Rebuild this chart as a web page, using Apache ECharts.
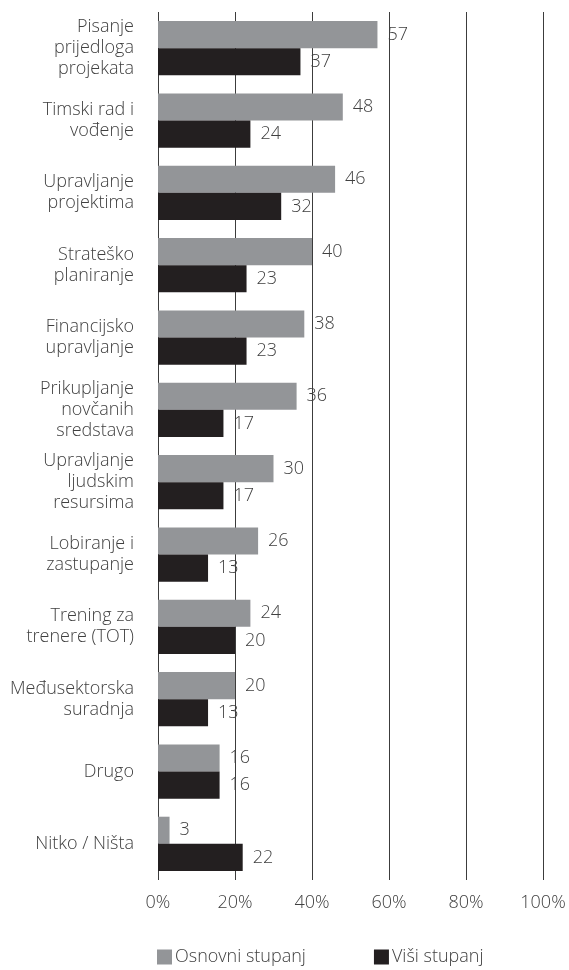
<!DOCTYPE html>
<html lang="hr">
<head>
    <meta charset="UTF-8">
    <title>Potrebe za edukacijom</title>
    <script src="https://cdn.jsdelivr.net/npm/echarts@6/dist/echarts.min.js"></script>
    <style>
        html, body { margin: 0; padding: 0; background: #fff; }
        #main { width: 569px; height: 970px; }
    </style>
</head>
<body>
<div id="main"></div>
<script>
    // kategorije od vrha prema dnu
    var kategorije = [
        'Pisanje\nprijedloga\nprojekata',
        'Timski rad i\nvođenje',
        'Upravljanje\nprojektima',
        'Strateško\nplaniranje',
        'Financijsko\nupravljanje',
        'Prikupljanje\nnovčanih\nsredstava',
        'Upravljanje\nljudskim\nresursima',
        'Lobiranje i\nzastupanje',
        'Trening za\ntrenere (TOT)',
        'Međusektorska\nsuradnja',
        'Drugo',
        'Nitko / Ništa'
    ];
    var osnovni = [57, 48, 46, 40, 38, 36, 30, 26, 24, 20, 16, 3];
    var visi = [37, 24, 32, 23, 23, 17, 17, 13, 20, 13, 16, 22];
    var xTicks = [0, 20, 40, 60, 80, 100];

    var font = '"Open Sans", "Noto Sans", sans-serif';
    var txt = '#404040';

    var myChart = echarts.init(document.getElementById('main'));
    var option = {
        animation: false,
        textStyle: { fontFamily: font },
        grid: { left: 158, right: 26, top: 12, bottom: 90 },
        legend: {
            left: 157,
            top: 948,
            padding: 0,
            itemWidth: 15,
            itemHeight: 15,
            itemGap: 68,
            icon: 'rect',
            textStyle: { fontSize: 18, color: txt, fontWeight: 300, padding: [0, 0, 0, -2] },
            data: ['Osnovni stupanj', 'Viši stupanj']
        },
        xAxis: {
            type: 'value',
            min: xTicks[0],
            max: xTicks[xTicks.length - 1],
            interval: 20,
            axisLine: { show: false },
            axisTick: { show: false },
            splitLine: { lineStyle: { color: '#3c3c3c', width: 1 } },
            axisLabel: {
                margin: 14,
                fontSize: 18,
                fontWeight: 300,
                color: txt,
                formatter: '{value}%'
            }
        },
        yAxis: {
            type: 'category',
            inverse: true,
            data: kategorije,
            axisLine: { show: false },
            axisTick: { show: false },
            axisLabel: {
                margin: 24,
                fontSize: 18,
                fontWeight: 300,
                lineHeight: 21,
                color: txt,
                align: 'right'
            }
        },
        series: [
            {
                name: 'Osnovni stupanj',
                type: 'bar',
                data: osnovni,
                barGap: '0%',
                barCategoryGap: '25%',
                itemStyle: { color: '#939598' },
                label: { show: true, position: 'right', distance: 10, fontSize: 18, fontWeight: 300, color: txt }
            },
            {
                name: 'Viši stupanj',
                type: 'bar',
                data: visi,
                barGap: '0%',
                barCategoryGap: '25%',
                itemStyle: { color: '#231f20' },
                label: { show: true, position: 'right', distance: 10, fontSize: 18, fontWeight: 300, color: txt }
            }
        ]
    };
    myChart.setOption(option);
</script>
</body>
</html>
